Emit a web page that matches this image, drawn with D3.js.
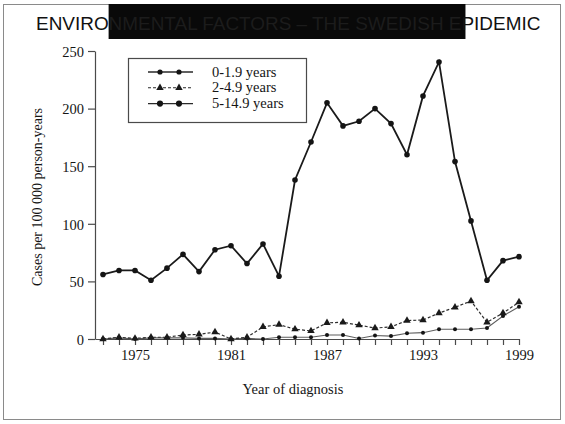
<!DOCTYPE html>
<html>
<head>
<meta charset="utf-8">
<script src="https://cdn.jsdelivr.net/npm/d3@7"></script>
<style>
    body { margin: 0; background: #fff; }
    svg { display: block; }
</style>
</head>
<body>
<svg></svg>
<script>
// data
const years = d3.range(1973, 2000);
const age0to1 = [56, 59.5, 59.5, 51, 61.5, 73.5, 58.5, 77.5, 81, 65.5, 82.5, 54.5, 138, 171, 205, 185, 189, 200, 187, 160, 211, 240.5, 154, 102.5, 51, 68, 71.5];
const age2to4 = [0, 1.5, 0.5, 1.5, 1.5, 3.5, 4, 6, 0, 1.5, 10.5, 12.5, 8.5, 7, 14, 14.5, 12, 9.5, 10.5, 16, 16.5, 22.5, 27.5, 33, 14.5, 22.5, 32];
const age5to14 = [0, 1, 0, 1, 1, 1, 0.5, 0.5, 0, 0.5, 0, 1.5, 1.5, 1.5, 3.5, 3.5, 0.5, 3, 2.5, 5, 5.5, 8.5, 8.5, 8.5, 9.5, 20, 28];
const seriesNames = ['0-1.9 years', '2-4.9 years', '5-14.9 years'];
const yTicks = [0, 50, 100, 150, 200, 250];
const xLabels = [1975, 1981, 1987, 1993, 1999];
const title = ['ENVIRO', 'NMENTAL FACTORS \u2013 THE SWEDISH E', 'PIDEMIC'];

let width = 565;
let height = 424;
const serif = '"Liberation Serif", "Times New Roman", serif';
const ink = '#151515';

let svg = d3.select('svg')
            .attr('width', width)
            .attr('height', height);

// outer frame
svg.append('rect')
    .attr('x', 3.5).attr('y', 4.5)
    .attr('width', 557).attr('height', 415)
    .attr('fill', 'none')
    .attr('stroke', '#8a8a8a')
    .attr('stroke-width', 1);

// title, middle part blacked out as in the scan
let blackout = svg.append('rect')
    .attr('y', 4)
    .attr('height', 35)
    .attr('fill', '#090909');

let t = svg.append('text')
    .attr('x', 36).attr('y', 30)
    .attr('font-family', '"Liberation Sans", Arial, sans-serif')
    .attr('font-size', 19);
title.forEach((s, i) => {
    t.append('tspan')
        .attr('fill', i === 1 ? '#1c1c1c' : '#111')
        .text(s);
});
// fit the title between x=36 and x=541
let tw = t.node().getComputedTextLength();
t.attr('font-size', 19 * 505 / tw);
let tn = t.node();
let firstLen = tn.getSubStringLength(0, title[0].length);
let midLen = tn.getSubStringLength(title[0].length, title[1].length);
blackout.attr('x', 36 + firstLen).attr('width', midLen + 4);

let x = d3.scaleLinear().domain([1972.5, 1999]).range([95, 519]);
let y = d3.scaleLinear().domain([0, 250]).range([339, 51]);

let xAxis = d3.axisBottom(x)
    .tickValues(years)
    .tickSize(6)
    .tickSizeOuter(0)
    .tickPadding(5)
    .tickFormat(d => xLabels.includes(d) ? d : '');

let yAxis = d3.axisLeft(y)
    .tickValues(yTicks)
    .tickSize(7)
    .tickSizeOuter(0)
    .tickPadding(4);

const styleAxis = g => {
    g.selectAll('path, line').attr('stroke', '#4a4a4a').attr('stroke-width', 1.2);
    g.selectAll('text')
        .attr('fill', ink)
        .attr('font-family', serif)
        .attr('font-size', 14.5);
};

svg.append('g')
    .attr('transform', 'translate(0,339)')
    .call(xAxis)
    .call(styleAxis);

svg.append('g')
    .attr('transform', 'translate(95,0)')
    .call(yAxis)
    .call(styleAxis)
    .call(g => g.selectAll('text').attr('dy', '0.36em'));

svg.append('text')
    .attr('transform', 'translate(42,197) rotate(-90)')
    .attr('text-anchor', 'middle')
    .attr('font-family', serif)
    .attr('font-size', 14)
    .attr('fill', ink)
    .text('Cases per 100 000 person-years');

svg.append('text')
    .attr('x', 293).attr('y', 394)
    .attr('text-anchor', 'middle')
    .attr('font-family', serif)
    .attr('font-size', 14.5)
    .attr('fill', ink)
    .text('Year of diagnosis');

const series = [
    { values: age5to14, dash: null, width: 1.1, color: '#5e5e5e', marker: 'dot', r: 2 },
    { values: age2to4, dash: '3,2', width: 1.2, color: '#2e2e2e', marker: 'tri', r: 0 },
    { values: age0to1, dash: null, width: 1.8, color: '#1a1a1a', marker: 'dot', r: 2.8 }
];

const line = d3.line()
    .x((d, i) => x(years[i]))
    .y(d => y(d));

const triangle = d3.symbol().type(d3.symbolTriangle).size(24);

series.forEach(s => {
    svg.append('path')
        .datum(s.values)
        .attr('d', line)
        .attr('fill', 'none')
        .attr('stroke', s.color)
        .attr('stroke-width', s.width)
        .attr('stroke-dasharray', s.dash);

    let pts = svg.append('g')
        .selectAll('.pt')
        .data(s.values)
        .enter();

    if (s.marker === 'tri') {
        pts.append('path')
            .attr('d', triangle)
            .attr('transform', (d, i) => `translate(${x(years[i])},${y(d)})`)
            .attr('fill', '#1a1a1a');
    } else {
        pts.append('circle')
            .attr('cx', (d, i) => x(years[i]))
            .attr('cy', d => y(d))
            .attr('r', s.r)
            .attr('fill', '#141414');
    }
});

// legend
let legend = svg.append('g');
legend.append('rect')
    .attr('x', 128.5).attr('y', 58.5)
    .attr('width', 178).attr('height', 64)
    .attr('fill', '#fff')
    .attr('stroke', '#4a4a4a')
    .attr('stroke-width', 1.2);

const legendRows = [
    { dash: null, marker: 'dot', r: 2.6, w: 1.5 },
    { dash: '3,2', marker: 'tri', r: 0, w: 1.1 },
    { dash: null, marker: 'dot', r: 3.1, w: 1.3 }
];

legendRows.forEach((row, i) => {
    let ly = 72 + i * 15.8;
    legend.append('line')
        .attr('x1', 148).attr('x2', 193)
        .attr('y1', ly).attr('y2', ly)
        .attr('stroke', '#2a2a2a')
        .attr('stroke-width', row.w)
        .attr('stroke-dasharray', row.dash);
    [160, 179].forEach(mx => {
        if (row.marker === 'tri') {
            legend.append('path')
                .attr('d', triangle)
                .attr('transform', `translate(${mx},${ly})`)
                .attr('fill', '#1a1a1a');
        } else {
            legend.append('circle')
                .attr('cx', mx).attr('cy', ly)
                .attr('r', row.r)
                .attr('fill', '#141414');
        }
    });
    legend.append('text')
        .attr('x', 212).attr('y', ly + 4.5)
        .attr('font-family', serif)
        .attr('font-size', 14.5)
        .attr('fill', ink)
        .text(seriesNames[i]);
});
</script>
</body>
</html>
